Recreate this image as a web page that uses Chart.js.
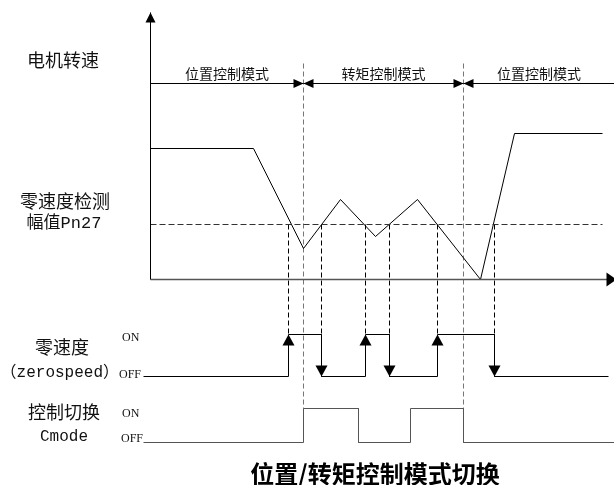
<!DOCTYPE html>
<html>
<head>
<meta charset="utf-8">
<script src="https://cdn.jsdelivr.net/npm/chart.js@4/dist/chart.umd.min.js"></script>
<style>
    body { margin: 0; background: #fff; }
</style>
</head>
<body>
<canvas id="grafico" width="614" height="485"></canvas>
<script>
// velocidade do motor ao longo do tempo
var curvaTempo = [0, 103, 153, 190, 225, 267, 330, 364, 452];
var curvaVel = [131, 131, 31, 80, 43, 80, 0, 146, 146];
var limiarPn27 = 55;
var fimLimiar = 452;

// trocas de modo: posicao -> torque -> posicao
var trocaModo = [153, 313];
var nomesModo = ['位置控制模式', '转矩控制模式', '位置控制模式'];
var nivelModo = 196;
var topoGuiaModo = 216;

// sinais digitais (comecam em OFF)
var trocasZero = [138, 171, 215, 239, 287, 344];
var trocasCmode = [153, 208, 260, 313];
var inicioSinal = -7;
var fimZero = 458;
var fimCmode = 464;

var fimEixoX = 466;
var topoEixoY = 267;

// posicoes na tela (px)
var L = { x0: 150, eixo: 279, zeroOff: 376, zeroOn: 334, modeOff: 442, modeOn: 408, W: 614, H: 485 };

function degraus(trocas, inicio, fim) {
    var pts = [{ x: inicio, y: 0 }];
    var nivel = 0;
    for (let i = 0; i < trocas.length; i++) {
        pts.push({ x: trocas[i], y: nivel });
        nivel = 1 - nivel;
        pts.push({ x: trocas[i], y: nivel });
    }
    pts.push({ x: fim, y: nivel });
    return pts;
}

function escalaSinal(off, on) {
    var u = off - on;
    return { min: -(L.H - off - 0.5) / u, max: (off + 0.5) / u };
}

function linha(pts, cor, eixo, extra) {
    var ds = {
        data: pts,
        borderColor: cor,
        borderWidth: 1,
        pointRadius: 0,
        tension: 0,
        fill: false,
        clip: false,
        yAxisID: eixo || 'y'
    };
    for (var k in extra) ds[k] = extra[k];
    return ds;
}

var curva = [];
for (let i = 0; i < curvaTempo.length; i++) {
    curva.push({ x: curvaTempo[i], y: curvaVel[i] });
}

var limitesModo = [0].concat(trocaModo).concat([fimCmode]);

var datasets = [
    linha([{ x: 0, y: 0 }, { x: 0, y: topoEixoY }], '#000', 'y', { setaFim: [10, 5] }),
    linha([{ x: 0, y: 0 }, { x: fimEixoX, y: 0 }], '#555', 'y', { setaFim: [10, 7], borderWidth: 1.5 }),
    linha([{ x: 0, y: limiarPn27 }, { x: fimLimiar, y: limiarPn27 }], '#333', 'y', { borderDash: [6, 3] }),
    linha(curva, '#000', 'y'),
    linha(degraus(trocasZero, inicioSinal, fimZero), '#000', 'yZero', { setasDegrau: true }),
    linha(degraus(trocasCmode, inicioSinal, fimCmode), '#555', 'yMode')
];

for (let i = 0; i < 3; i++) {
    datasets.push(linha([{ x: limitesModo[i], y: nivelModo }, { x: limitesModo[i + 1], y: nivelModo }], '#000', 'y', {
        setaIni: i > 0 ? [10, 4.5] : null,
        setaFim: i < 2 ? [10, 4.5] : null
    }));
}

function seta(ctx, tx, ty, dx, dy, comp, meia) {
    var n = Math.sqrt(dx * dx + dy * dy);
    dx /= n; dy /= n;
    var bx = tx - dx * comp, by = ty - dy * comp;
    ctx.beginPath();
    ctx.moveTo(tx, ty);
    ctx.lineTo(bx - dy * meia, by + dx * meia);
    ctx.lineTo(bx + dy * meia, by - dx * meia);
    ctx.closePath();
    ctx.fill();
}

var guias = {
    id: 'guias',
    beforeDatasetsDraw: function (chart) {
        var ctx = chart.ctx;
        var sx = chart.scales.x, sy = chart.scales.y;
        ctx.save();
        ctx.lineWidth = 1;
        ctx.setLineDash([5, 3]);

        // troca de modo: do topo ate o Cmode ON
        ctx.strokeStyle = '#777';
        for (let i = 0; i < trocaModo.length; i++) {
            var px = sx.getPixelForValue(trocaModo[i]);
            ctx.beginPath();
            ctx.moveTo(px, sy.getPixelForValue(topoGuiaModo));
            ctx.lineTo(px, chart.scales.yMode.getPixelForValue(1));
            ctx.stroke();
        }

        // deteccao de velocidade zero: do limiar ate o zerospeed ON
        ctx.strokeStyle = '#000';
        for (let i = 0; i < trocasZero.length; i++) {
            var px2 = sx.getPixelForValue(trocasZero[i]);
            ctx.beginPath();
            ctx.moveTo(px2, sy.getPixelForValue(limiarPn27));
            ctx.lineTo(px2, chart.scales.yZero.getPixelForValue(1));
            ctx.stroke();
        }
        ctx.restore();
    },
    afterDatasetsDraw: function (chart) {
        var ctx = chart.ctx;
        ctx.save();
        chart.data.datasets.forEach(function (ds, i) {
            var pts = chart.getDatasetMeta(i).data;
            ctx.fillStyle = '#000';
            if (ds.setaFim) {
                var a = pts[pts.length - 1], b = pts[pts.length - 2];
                seta(ctx, a.x, a.y, a.x - b.x, a.y - b.y, ds.setaFim[0], ds.setaFim[1]);
            }
            if (ds.setaIni) {
                var c = pts[0], d = pts[1];
                seta(ctx, c.x, c.y, c.x - d.x, c.y - d.y, ds.setaIni[0], ds.setaIni[1]);
            }
            if (ds.setasDegrau) {
                for (let k = 1; k < pts.length; k++) {
                    if (Math.abs(pts[k].x - pts[k - 1].x) < 1 && pts[k].y != pts[k - 1].y) {
                        seta(ctx, pts[k].x, pts[k].y, 0, pts[k].y - pts[k - 1].y, 11, 6);
                    }
                }
            }
        });
        ctx.restore();
    }
};

var textos = {
    id: 'textos',
    afterDraw: function (chart) {
        var ctx = chart.ctx;
        var sx = chart.scales.x, sy = chart.scales.y;
        var fonte = '"Liberation Serif", "Noto Sans CJK SC", serif';
        var mono = '"Liberation Mono", "Noto Sans CJK SC", monospace';
        ctx.save();
        ctx.fillStyle = '#111';
        ctx.textBaseline = 'middle';
        ctx.textAlign = 'center';

        ctx.font = '14px ' + fonte;
        for (let i = 0; i < nomesModo.length; i++) {
            var cx = (sx.getPixelForValue(limitesModo[i]) + sx.getPixelForValue(limitesModo[i + 1])) / 2;
            ctx.fillText(nomesModo[i], cx, sy.getPixelForValue(nivelModo) - 8);
        }

        ctx.font = '18px ' + fonte;
        ctx.fillText('电机转速', 63, 62);
        ctx.fillText('零速度检测', 65, 203);
        ctx.fillText('零速度', 62, 349);
        ctx.fillText('控制切换', 64, 414);
        ctx.font = '17px ' + mono;
        ctx.fillText('幅值Pn27', 64, 223);
        ctx.font = '16px ' + mono;
        ctx.fillText('Cmode', 64, 437);
        ctx.textAlign = 'right';
        ctx.fillText('（zerospeed）', 119, 373);

        ctx.textAlign = 'left';
        ctx.font = '12px ' + fonte;
        ctx.fillText('ON', 122, 338);
        ctx.fillText('OFF', 119, 375);
        ctx.fillText('ON', 122, 414);
        ctx.fillText('OFF', 121, 439);

        ctx.textAlign = 'center';
        ctx.fillStyle = '#000';
        ctx.font = 'bold 24px "Noto Sans CJK SC", sans-serif';
        ctx.fillText('位置/转矩控制模式切换', 375, 474);
        ctx.restore();
    }
};

var ez = escalaSinal(L.zeroOff, L.zeroOn);
var em = escalaSinal(L.modeOff, L.modeOn);

new Chart(document.getElementById('grafico'), {
    type: 'line',
    data: { datasets: datasets },
    options: {
        responsive: false,
        animation: false,
        layout: { padding: 0 },
        plugins: { legend: { display: false }, tooltip: { enabled: false }, title: { display: false } },
        scales: {
            x: { type: 'linear', display: false, min: -(L.x0 + 0.5), max: L.W - L.x0 - 0.5 },
            y: { type: 'linear', display: false, min: -(L.H - L.eixo - 0.5), max: L.eixo + 0.5 },
            yZero: { type: 'linear', display: false, min: ez.min, max: ez.max },
            yMode: { type: 'linear', display: false, min: em.min, max: em.max }
        }
    },
    plugins: [guias, textos]
});
</script>
</body>
</html>
